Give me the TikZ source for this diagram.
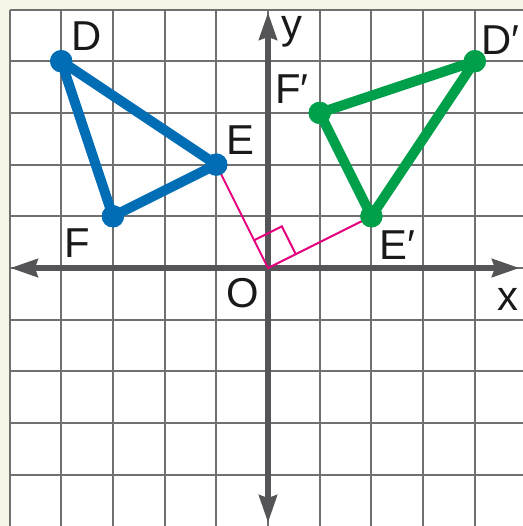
\documentclass[tikz,border=0pt]{standalone}
\usepackage{fontspec}
\setmainfont{Liberation Sans}
\usepackage{tikz}
\usetikzlibrary{arrows.meta,positioning}
\definecolor{triblue}{RGB}{0,109,180}
\definecolor{trigreen}{RGB}{0,160,75}
\definecolor{rotpink}{RGB}{230,0,126}
\definecolor{axisgray}{RGB}{85,85,88}
\definecolor{gridgray}{RGB}{112,112,112}
\definecolor{papercream}{RGB}{246,246,232}
\tikzstyle{vertex}=[circle,inner sep=0pt,minimum size=0.43cm]
\tikzstyle{lbl}=[font=\fontsize{23}{26}\selectfont,inner sep=0pt,text=black!90]
\tikzstyle{side}=[line width=5.5pt,line join=round]
\tikzstyle{gridline}=[draw=gridgray,line width=1.1pt]
\tikzstyle{axis}=[{Stealth[length=0.53cm,width=0.34cm,inset=0.05cm]}-{Stealth[length=0.53cm,width=0.34cm,inset=0.05cm]},
                  line width=3.4pt,draw=axisgray]
\tikzstyle{ray}=[draw=rotpink,line width=1.1pt]

\begin{document}
\begin{tikzpicture}
      \useasboundingbox[fill=papercream] (-5.184,-4.990) rectangle (4.932,5.184);
      \clip (-5.184,-4.990) rectangle (4.932,5.184);
      % grid paper
      \fill[white] (-5,-5.5) rectangle (5.5,5);
      \draw[gridline] (-5,-5.5) grid (5.5,5);
      % axes
      \coordinate (xl) at (-4.99,0);
      \coordinate (xr) at (4.87,0);
      \coordinate (yb) at (0,-4.93);
      \coordinate (yt) at (0,4.95);
      \coordinate (o) at (0,0);
      \draw[axis] (xl) -- (xr);
      \draw[axis] (yb) -- (yt);
      % vertices
      \node[vertex,fill=triblue] (d) at (-4,4) {};
      \node[vertex,fill=triblue] (e) at (-1,2) {};
      \node[vertex,fill=triblue] (f) at (-3,1) {};
      \node[vertex,fill=trigreen] (dp) at (4,4) {};
      \node[vertex,fill=trigreen] (ep) at (2,1) {};
      \node[vertex,fill=trigreen] (fp) at (1,3) {};
      % rotation rays and right angle
      \draw[ray] (e.center) -- (o) -- (ep.center);
      \draw[ray] (-0.268,0.537) -- (0.268,0.805) -- (0.537,0.268);
      % triangles
      \draw[side,triblue] (d.center) -- (e.center) -- (f.center) -- cycle;
      \draw[side,trigreen] (dp.center) -- (ep.center) -- (fp.center) -- cycle;
      \node[vertex,fill=triblue] at (d) {};
      \node[vertex,fill=triblue] at (e) {};
      \node[vertex,fill=triblue] at (f) {};
      \node[vertex,fill=trigreen] at (dp) {};
      \node[vertex,fill=trigreen] at (ep) {};
      \node[vertex,fill=trigreen] at (fp) {};
      % labels
      \node[lbl] (ld) at (-3.50,4.49) {D};
      \node[lbl] (le) at (-0.54,2.48) {E};
      \node[lbl] (lf) at (-3.69,0.48) {F};
      \node[lbl] (ldp) at (4.49,4.40) {D′};
      \node[lbl] (lep) at (2.51,0.44) {E′};
      \node[lbl] (lfp) at (0.46,3.46) {F′};
      \node[lbl] (lo) at (-0.48,-0.48) {O};
      \node[lbl] (lx) at (4.64,-0.60) {x};
      \node[lbl] (ly) at (0.47,4.56) {y};
    \end{tikzpicture}
\end{document}
